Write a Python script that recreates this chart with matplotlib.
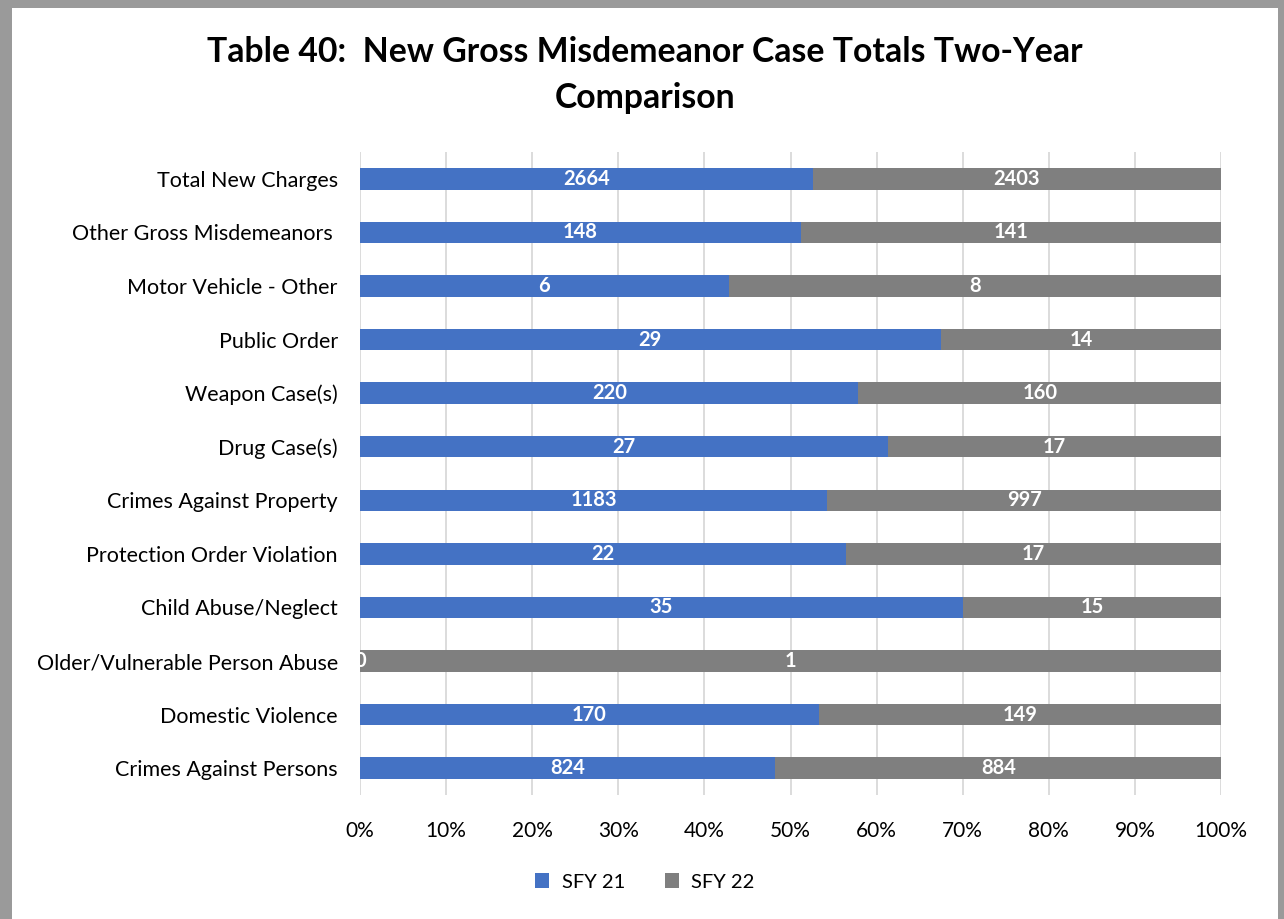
import matplotlib
matplotlib.use("Agg")
import matplotlib.pyplot as plt
from matplotlib.patches import Rectangle
import numpy as np

categories = ["Total New Charges", "Other Gross Misdemeanors ", "Motor Vehicle - Other",
              "Public Order", "Weapon Case(s)", "Drug Case(s)", "Crimes Against Property",
              "Protection Order Violation", "Child Abuse/Neglect",
              "Older/Vulnerable Person Abuse", "Domestic Violence", "Crimes Against Persons"]
sfy21 = [2664, 148, 6, 29, 220, 27, 1183, 22, 35, 0, 170, 824]
sfy22 = [2403, 141, 8, 14, 160, 17, 997, 17, 15, 1, 149, 884]
series_names = ["SFY 21", "SFY 22"]
xticks = [0, 10, 20, 30, 40, 50, 60, 70, 80, 90, 100]

plt.rcParams['font.family'] = ['Lato', 'DejaVu Sans']
blue = "#4472C4"
gray = "#7F7F7F"

fig = plt.figure(figsize=(12.84, 9.19), dpi=100)
W, H = 1284, 919
# frame border
fig.patches.append(Rectangle((0, 0), 1, 1, transform=fig.transFigure, facecolor="#9a9a9a", edgecolor="none", zorder=-2))
fig.patches.append(Rectangle((12 / W, 0), (1278 - 12) / W, (919 - 8) / H, transform=fig.transFigure,
                             facecolor="white", edgecolor="none", zorder=-1))

ax = fig.add_axes([360 / W, 1 - 795 / H, (1221 - 360) / W, (795 - 152) / H])
a = np.array(sfy21, dtype=float)
b = np.array(sfy22, dtype=float)
tot = a + b
pa = a / tot * 100
pb = b / tot * 100
y = np.arange(len(categories))[::-1]

ax.barh(y, pa, height=0.4, color=blue, label=series_names[0], zorder=3)
ax.barh(y, pb, left=pa, height=0.4, color=gray, label=series_names[1], zorder=3)
for yi, p1, p2, v1, v2 in zip(y, pa, pb, sfy21, sfy22):
    ax.text(p1 / 2, yi, str(v1), color="white", fontweight="bold", fontsize=14.5, ha="center", va="center", zorder=4)
    ax.text(p1 + p2 / 2, yi, str(v2), color="white", fontweight="bold", fontsize=14.5, ha="center", va="center", zorder=4)

ax.set_xlim(0, 100)
ax.set_ylim(-0.5, len(categories) - 0.5)
ax.set_xticks(xticks)
ax.set_xticklabels([f"{t}%" for t in xticks], fontsize=15)
ax.set_yticks(y)
ax.set_yticklabels(categories, fontsize=15.5)
ax.tick_params(axis="both", length=0)
ax.tick_params(axis="x", pad=19)
ax.tick_params(axis="y", pad=16)
ax.grid(axis="x", color="#d9d9d9", linewidth=1.3, zorder=0)
for s in ax.spines.values():
    s.set_visible(False)

fig.text(645 / W, 1 - 52 / H, "Table 40:  New Gross Misdemeanor Case Totals Two-Year", ha="center", va="center",
         fontsize=24.3, fontweight="bold")
fig.text(645 / W, 1 - 98 / H, "Comparison", ha="center", va="center", fontsize=24.3, fontweight="bold")

fig.legend(loc="center", bbox_to_anchor=(645 / W, 1 - 882 / H), ncol=2, frameon=False, fontsize=14.5,
           handlelength=0.7, handleheight=0.7, columnspacing=2.0, handletextpad=0.6)

fig.savefig("out.png", dpi=100)
